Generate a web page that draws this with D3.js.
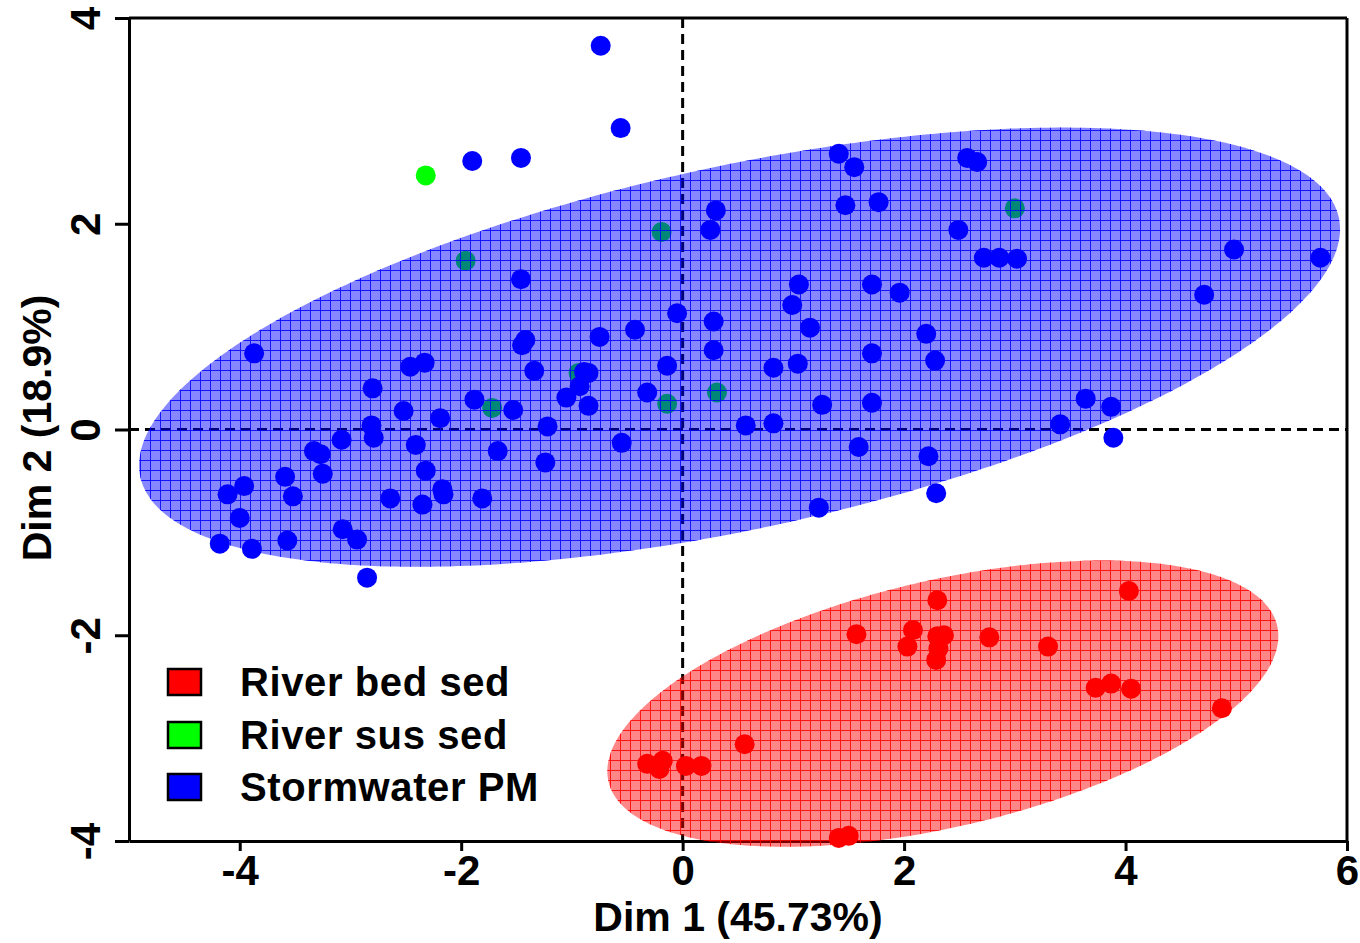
<!DOCTYPE html>
<html>
<head>
<meta charset="utf-8">
<script src="https://cdn.jsdelivr.net/npm/d3@7"></script>
<style>
  html, body { margin: 0; padding: 0; background: #fff; }
  svg { display: block; }
  text { font-family: "Liberation Sans", Arial, sans-serif; font-weight: bold; fill: #000; }
</style>
</head>
<body>
<svg id="chart" width="1360" height="943"></svg>
<script>
// ---- data -------------------------------------------------------------
const groups = ["River bed sed", "River sus sed", "Stormwater PM"];
const groupColors = ["#ff0000", "#00ff00", "#0000ff"];
const xTicks = [-4, -2, 0, 2, 4, 6];
const yTicks = [-4, -2, 0, 2, 4];
const xTitle = "Dim 1 (45.73%)";
const yTitle = "Dim 2 (18.9%)";

// Stormwater PM scores
const stormDim1 = [-0.74, -0.56, -1.90, -1.46, 1.41, 1.55, 2.57, 2.66, 1.47, 1.77,
  0.30, 0.25, 2.49, 2.72, 2.86, 3.02, 4.98, 5.76, 4.71, -1.46,
  1.05, 1.71, 1.96, 0.99, -0.05, 0.28, 1.15, -0.43, -0.75, 0.28,
  2.20, 2.28, -1.42, -1.45, -3.87, -2.46, -2.33, -1.34, -0.89, -0.85,
  -0.14, 0.82, 1.04, 1.71, -0.32, -0.93, -1.05, -0.85, -1.88, -1.53,
  -2.19, -1.22, -0.55, -1.67, -1.24, 1.26, 1.71, 0.57, 0.82, 1.59,
  2.22, 2.29, 1.23, 3.64, 3.87, 3.41, 3.89, -2.80, -2.52, -2.81,
  -2.79, -3.08, -3.33, -3.27, -3.25, -2.41, -2.32, -2.17, -2.16, -3.59,
  -3.96, -4.11, -3.52, -2.64, -2.35, -4.00, -3.07, -2.94, -4.18, -3.89,
  -3.57, -2.85, -1.81];
const stormDim2 = [3.73, 2.93, 2.61, 2.64, 2.68, 2.55, 2.64, 2.60, 2.18, 2.21,
  2.13, 1.94, 1.94, 1.67, 1.67, 1.66, 1.75, 1.67, 1.31, 1.46,
  1.41, 1.41, 1.33, 1.21, 1.13, 1.05, 0.99, 0.97, 0.90, 0.77,
  0.93, 0.67, 0.87, 0.82, 0.74, 0.61, 0.65, 0.57, 0.56, 0.55,
  0.62, 0.60, 0.64, 0.74, 0.36, 0.42, 0.31, 0.23, 0.29, 0.19,
  0.11, 0.03, -0.13, -0.21, -0.32, 0.24, 0.26, 0.04, 0.06, -0.17,
  -0.26, -0.62, -0.76, 0.30, 0.22, 0.05, -0.08, 0.40, 0.18, 0.04,
  -0.08, -0.10, -0.21, -0.24, -0.43, -0.15, -0.40, -0.58, -0.63, -0.46,
  -0.55, -0.63, -0.65, -0.67, -0.73, -0.86, -0.97, -1.07, -1.11, -1.16,
  -1.08, -1.44, -0.67];

// River suspended sediment scores
const susDim1 = [-2.32, -1.96, -0.19, 3.00, -0.94, -0.14, 0.31, -1.72];
const susDim2 = [2.47, 1.64, 1.92, 2.15, 0.55, 0.25, 0.36, 0.21];

// River bed sediment scores
const bedDim1 = [2.30, 4.03, 1.57, 2.08, 2.03, 2.30, 2.36, 2.31, 2.29, 2.77,
  3.30, 3.73, 3.87, 4.05, 4.87, -0.32, -0.18, -0.21, 0.03, 0.17,
  0.56, 1.50, 1.41];
const bedDim2 = [-1.66, -1.57, -1.99, -1.95, -2.11, -2.01, -2.00, -2.13, -2.24, -2.02,
  -2.11, -2.51, -2.47, -2.52, -2.71, -3.25, -3.22, -3.30, -3.27, -3.27,
  -3.06, -3.95, -3.97];

// confidence ellipses: [centre Dim1, centre Dim2, half-width on Dim1,
//                       slope of conjugate diameter, half-height on Dim2]
const stormEllipse = [0.514, 0.80, 5.423, 0.2116, 1.80];
const bedEllipse = [2.35, -2.665, 3.03, 0.217, 1.226];

// ---- layout -----------------------------------------------------------
const svg = d3.select("#chart");
const x = d3.scaleLinear().domain([-5, 6]).range([129, 1347]);
const y = d3.scaleLinear().domain([-4, 4]).range([841, 18]);

const defs = svg.append("defs");

// fine grid laid over the translucent ellipse fill
function gridPattern(id, color) {
  const n = 10;
  const p = defs.append("pattern")
    .attr("id", id)
    .attr("patternUnits", "userSpaceOnUse")
    .attr("x", 0).attr("y", 0)
    .attr("width", n).attr("height", n);
  p.append("rect").attr("x", 0).attr("y", 0).attr("width", n).attr("height", 1)
    .attr("fill", color).attr("shape-rendering", "crispEdges");
  p.append("rect").attr("x", 0).attr("y", 0).attr("width", 1).attr("height", n)
    .attr("fill", color).attr("shape-rendering", "crispEdges");
}
gridPattern("gridBed", groupColors[0]);
gridPattern("gridStorm", groupColors[2]);

// ---- axes -------------------------------------------------------------
const tickFont = 42;
const fmt = d => String(d);

const gx = svg.append("g")
  .attr("transform", `translate(0,${y(-4)})`)
  .call(d3.axisBottom(x).tickValues(xTicks).tickSize(10).tickSizeOuter(0).tickPadding(4)
    .tickFormat(fmt));
gx.select(".domain").attr("stroke", "#000").attr("stroke-width", 3);
gx.selectAll(".tick line").attr("stroke", "#000").attr("stroke-width", 3);
gx.selectAll(".tick text")
  .style("font-size", tickFont + "px")
  .style("font-family", "'Liberation Sans', Arial, sans-serif")
  .style("font-weight", "bold")
  .attr("fill", "#000");

const gy = svg.append("g")
  .attr("transform", `translate(${x(-5)},0)`)
  .call(d3.axisLeft(y).tickValues(yTicks).tickSize(14).tickSizeOuter(0)
    .tickFormat(fmt));
gy.select(".domain").attr("stroke", "#000").attr("stroke-width", 3);
gy.selectAll(".tick line").attr("stroke", "#000").attr("stroke-width", 3);
gy.selectAll(".tick text")
  .attr("x", 0).attr("dy", null).attr("y", 0)
  .attr("text-anchor", "middle")
  .attr("transform", "translate(-29,0) rotate(-90)")
  .style("font-size", tickFont + "px")
  .style("font-family", "'Liberation Sans', Arial, sans-serif")
  .style("font-weight", "bold")
  .attr("fill", "#000");

// top and right frame
svg.append("line")
  .attr("x1", x(-5)).attr("x2", x(6)).attr("y1", y(4)).attr("y2", y(4))
  .attr("stroke", "#000").attr("stroke-width", 3);
svg.append("line")
  .attr("x1", x(6)).attr("x2", x(6)).attr("y1", y(4)).attr("y2", y(-4))
  .attr("stroke", "#000").attr("stroke-width", 3);

// zero reference lines
svg.append("line")
  .attr("x1", x(-5)).attr("x2", x(6)).attr("y1", y(0)).attr("y2", y(0))
  .attr("stroke", "#000").attr("stroke-width", 3).attr("stroke-dasharray", "10,6");
svg.append("line")
  .attr("x1", x(0)).attr("x2", x(0)).attr("y1", y(4)).attr("y2", y(-4))
  .attr("stroke", "#000").attr("stroke-width", 3).attr("stroke-dasharray", "10,6");

// ---- points -----------------------------------------------------------
const series = [
  { xs: bedDim1, ys: bedDim2, color: groupColors[0] },
  { xs: susDim1, ys: susDim2, color: groupColors[1] },
  { xs: stormDim1, ys: stormDim2, color: groupColors[2] }
];
series.forEach(s => {
  svg.append("g").selectAll("circle")
    .data(d3.range(s.xs.length))
    .join("circle")
    .attr("cx", i => x(s.xs[i]))
    .attr("cy", i => y(s.ys[i]))
    .attr("r", 10)
    .attr("fill", s.color);
});

// ---- ellipses (translucent + grid, drawn over the points) ----------------
function ellipsePoints(e) {
  const [cx, cy, w, slope, h] = e;
  return d3.range(0, 360, 1).map(deg => {
    const t = deg * Math.PI / 180;
    const u = w * Math.cos(t);
    return [cx + u, cy + slope * u + h * Math.sin(t)];
  });
}
const ellLine = d3.line().x(d => x(d[0])).y(d => y(d[1])).curve(d3.curveLinearClosed);
[[stormEllipse, groupColors[2], "gridStorm"], [bedEllipse, groupColors[0], "gridBed"]]
  .forEach(([e, color, grid]) => {
    const d = ellLine(ellipsePoints(e));
    svg.append("path").attr("d", d).attr("fill", color).attr("fill-opacity", 0.47);
    svg.append("path").attr("d", d).attr("fill", `url(#${grid})`).attr("fill-opacity", 0.85);
  });

// ---- legend -----------------------------------------------------------
const legend = svg.append("g");
const legendRows = [682, 735, 787];
groups.forEach((g, i) => {
  legend.append("rect")
    .attr("x", 168).attr("y", legendRows[i] - 13)
    .attr("width", 33).attr("height", 26)
    .attr("fill", groupColors[i])
    .attr("stroke", "#000").attr("stroke-width", 2.5);
  legend.append("text")
    .attr("x", 240).attr("y", legendRows[i] + 14)
    .style("font-size", "40px")
    .style("letter-spacing", "0.6px")
    .text(g);
});

// ---- axis titles --------------------------------------------------------
svg.append("text")
  .attr("x", 738).attr("y", 931)
  .attr("text-anchor", "middle")
  .style("font-size", "41px")
  .text(xTitle);
svg.append("text")
  .attr("transform", "translate(51,428) rotate(-90)")
  .attr("text-anchor", "middle")
  .style("font-size", "41px")
  .text(yTitle);
</script>
</body>
</html>
